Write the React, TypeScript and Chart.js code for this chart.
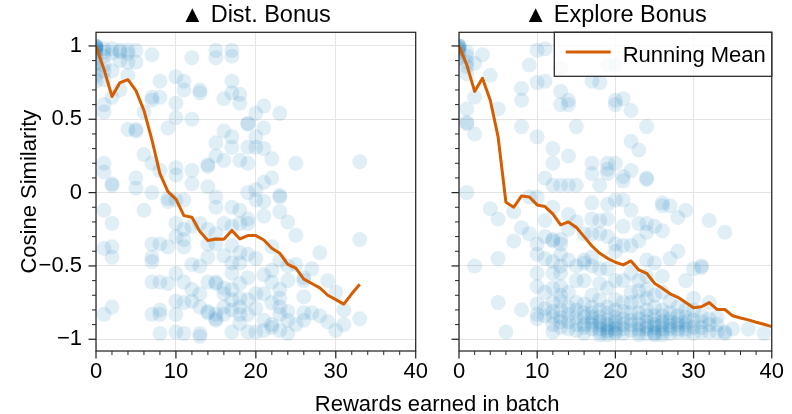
import React, { useEffect, useRef } from 'react';
import { Chart, registerables } from 'chart.js';

Chart.register(...registerables);

// ---- data -------------------------------------------------------------

const panelTitles = ['▲ Dist. Bonus', '▲ Explore Bonus'];
const xAxisLabel = 'Rewards earned in batch';
const yAxisLabel = 'Cosine Similarity';
const legendLabel = 'Running Mean';

const xTicks = [0, 10, 20, 30, 40];
const yTicks = [-1, -0.5, 0, 0.5, 1];
const yTickLabels = ['−1', '−0.5', '0', '0.5', '1'];

// cosine similarity of each batch, grouped by the number of rewards earned (index = rewards)
const distSims: number[][] = [
  [1, 1, 1, 0.99, 0.99, 0.98, 0.97, 0.95, 0.92, 0.88, 0.85, 0.8, 0.76],
  [0.98, 0.96, 0.93, 0.87, 0.83, 0.77, 0.6, 0.55, 0.2, 0.14, -0.12, -0.38, -0.83],
  [0.98, 0.95, 0.83, 0.65, 0.06, 0.05, -0.21, -0.37, -0.44, -0.78],
  [0.97, 0.96, 0.9, 0.7],
  [0.97, 0.95, 0.89, 0.8, 0.43],
  [0.97, 0.89, 0.43, 0.42, 0.1, 0.03],
  [0.55, 0.26, -0.12],
  [0.94, 0.65, 0.63, 0.2, 0.0, -0.35, -0.44, -0.47, -0.61, -0.83],
  [0.76, 0.65, 0.15, -0.35, -0.61, -0.8, -0.83, -0.96],
  [0.44, -0.04, -0.06, -0.37, -0.62],
  [0.79, 0.61, 0.51, 0.17, 0.12, -0.05, -0.21, -0.3, -0.55, -0.74, -0.83, -0.95],
  [0.76, 0.7, -0.05, -0.25, -0.32, -0.37, -0.61, -0.75, -0.96],
  [0.92, 0.5, 0.15, 0.06, -0.23, -0.49, -0.66, -0.74],
  [0.7, 0.68, -0.21, -0.5, -0.69, -0.78, -0.96, -0.98],
  [0.19, 0.18, 0.04, -0.25, -0.35, -0.44, -0.61, -0.81, -0.82],
  [0.97, 0.92, 0.34, 0.25, -0.03, -0.1, -0.28, -0.35, -0.61, -0.62, -0.83, -0.87, -0.86],
  [0.64, 0.42, 0.22, -0.21, -0.43, -0.65, -0.69, -0.78, -0.83],
  [0.97, 0.93, 0.76, 0.68, 0.38, 0.31, -0.1, -0.23, -0.36, -0.48, -0.55, -0.66, -0.73, -0.8, -0.95],
  [0.67, 0.61, 0.22, -0.12, -0.21, -0.41, -0.48, -0.62, -0.72, -0.78, -0.83, -0.89],
  [0.47, 0.47, 0.31, 0.2, 0.0, -0.18, -0.21, -0.42, -0.58, -0.73, -0.83, -0.95],
  [0.54, 0.38, 0.31, 0.02, -0.05, -0.45, -0.69, -0.79, -0.95],
  [0.59, 0.44, 0.3, 0.07, -0.06, -0.16, -0.56, -0.69, -0.87, -0.94],
  [0.23, 0.1, -0.37, -0.53, -0.61, -0.75, -0.9, -0.92],
  [0.54, -0.02, -0.03, -0.13, -0.46, -0.66, -0.72, -0.78, -0.83, -0.94],
  [-0.2, -0.5, -0.6, -0.81, -0.87, -0.96],
  [0.2, -0.29, -0.49, -0.9],
  [-0.58, -0.6, -0.71, -0.82, -0.87],
  [-0.52, -0.82],
  [-0.41, -0.84],
  [-0.6, -0.88],
  [-0.68, -0.94],
  [-0.8, -0.9],
  [],
  [0.21, -0.32, -0.86],
];

const exploreSims: number[][] = [
  [1, 1, 1, 0.99, 0.98, 0.97, 0.95, 0.92],
  [0.96, 0.93, 0.89, 0.86, 0.81, 0.57, 0.48, 0.47, 0.0],
  [0.88, 0.65, 0.4, -0.5],
  [0.94],
  [0.8, -0.11],
  [0.57, -0.18, -0.45, -0.75],
  [-0.95],
  [-0.13, -0.33],
  [0.71, 0.63, 0.45, -0.24, -0.8],
  [0.87, -0.03, -0.28],
  [0.97, 0.75, 0.38, -0.03, -0.35, -0.42, -0.55, -0.64, -0.76, -0.83, -0.86],
  [0.98, 0.76, 0.1, -0.19, -0.3, -0.45, -0.68, -0.79, -0.84],
  [0.3, 0.2, 0.05, -0.1, -0.32, -0.33, -0.47, -0.55, -0.65, -0.75, -0.81, -0.85, -0.9, -0.95],
  [0.85, 0.69, 0.6, 0.05, -0.32, -0.35, -0.42, -0.5, -0.55, -0.64, -0.7, -0.74, -0.8, -0.85, -0.88, -0.92],
  [0.63, 0.6, 0.25, 0.05, -0.15, -0.25, -0.46, -0.68, -0.78, -0.83, -0.88, -0.93],
  [0.45, 0.05, -0.2, -0.5, -0.6, -0.75, -0.8, -0.85, -0.9, -0.94],
  [-0.28, -0.46, -0.48, -0.6, -0.76, -0.82, -0.85, -0.9, -0.92, -0.96],
  [0.76, 0.2, 0.13, -0.07, -0.18, -0.28, -0.44, -0.5, -0.7, -0.78, -0.82, -0.85, -0.88, -0.9, -0.93],
  [0.75, 0.05, -0.19, -0.28, -0.52, -0.62, -0.73, -0.8, -0.85, -0.88, -0.9, -0.93, -0.95, -0.97],
  [0.87, 0.2, 0.16, 0.13, -0.08, -0.18, -0.3, -0.52, -0.65, -0.78, -0.82, -0.87, -0.9, -0.92, -0.94, -0.95, -0.97],
  [0.87, 0.63, 0.6, 0.2, -0.05, -0.35, -0.4, -0.6, -0.73, -0.8, -0.85, -0.88, -0.9, -0.93, -0.95, -0.96],
  [0.64, 0.11, 0.08, -0.05, -0.23, -0.36, -0.6, -0.75, -0.81, -0.86, -0.9, -0.93, -0.96],
  [0.56, 0.35, 0.15, -0.12, -0.36, -0.55, -0.68, -0.75, -0.82, -0.87, -0.9, -0.94],
  [0.29, -0.21, -0.33, -0.6, -0.67, -0.74, -0.82, -0.86, -0.9, -0.93, -0.95, -0.97],
  [0.45, 0.1, 0.09, -0.21, -0.27, -0.46, -0.57, -0.66, -0.72, -0.8, -0.84, -0.88, -0.91, -0.93, -0.96],
  [-0.23, -0.48, -0.7, -0.78, -0.84, -0.87, -0.9, -0.92, -0.95, -0.96, -0.97],
  [-0.07, -0.09, -0.26, -0.57, -0.68, -0.8, -0.84, -0.88, -0.9, -0.93, -0.95, -0.97],
  [-0.09, -0.45, -0.74, -0.82, -0.86, -0.88, -0.91, -0.93, -0.96],
  [-0.17, -0.4, -0.78, -0.84, -0.88, -0.9, -0.93, -0.95],
  [-0.12, -0.6, -0.8, -0.85, -0.88, -0.9, -0.93, -0.95],
  [-0.52, -0.72, -0.8, -0.87, -0.92, -0.96],
  [-0.5, -0.51, -0.84, -0.88, -0.92, -0.95],
  [-0.19, -0.75, -0.86, -0.9, -0.95],
  [-0.85, -0.9, -0.95],
  [-0.27, -0.95, -0.96],
  [-0.93],
  [],
  [-0.93],
  [],
  [-0.96],
  [],
];

// running mean per reward count (index = rewards)
const distMean = [
  1.0, 0.84, 0.655, 0.75, 0.77, 0.695, 0.56, 0.36, 0.13, 0.007, -0.045, -0.157, -0.168,
  -0.266, -0.327, -0.316, -0.318, -0.258, -0.316, -0.293, -0.293, -0.323, -0.38, -0.414,
  -0.49, -0.515, -0.59, -0.62, -0.65, -0.7, -0.73, -0.76, -0.69, -0.625,
];
const exploreMean = [
  1.0, 0.87, 0.69, 0.78, 0.63, 0.38, -0.066, -0.1, -0.023, -0.03, -0.084, -0.095, -0.145,
  -0.22, -0.2, -0.236, -0.3, -0.364, -0.414, -0.448, -0.475, -0.493, -0.466, -0.527, -0.55,
  -0.618, -0.652, -0.69, -0.714, -0.75, -0.785, -0.778, -0.75, -0.797, -0.797, -0.84,
  -0.855, -0.868, -0.884, -0.898, -0.914,
];

// ---- styling ----------------------------------------------------------

const FONT = '"Liberation Sans", Arial, Helvetica, sans-serif';
const POINT_FILL = 'rgba(1, 115, 178, 0.12)';
const LINE_COLOR = '#d55e00';
const INK = '#262626';
const GRID = '#e4e4e4';
const W = 792;
const H = 414;
const PLOT_TOP = 32.3;
const PLOT_BOTTOM = 351;
const X_AXIS_H = H - PLOT_BOTTOM;
const PANELS = [
  { left: 96, right: 415.7 },
  { left: 459, right: 778.3 },
];
const X_MINOR_STEP = 2;
const Y_MINOR_STEP = 0.1;

const toPoints = (cols: number[][]) => {
  const pts: { x: number; y: number }[] = [];
  cols.forEach((ys, x) => ys.forEach((y) => pts.push({ x, y })));
  return pts;
};
const toLine = (vals: number[]) => vals.map((y, x) => ({ x, y }));

// frame, outward major/minor ticks and panel title
const panelDecor = {
  id: 'panelDecor',
  afterDraw(chart: any, _args: any, opts: any) {
    const { ctx, chartArea: a } = chart;
    const xs = chart.scales.x;
    const ys = chart.scales.y;
    ctx.save();
    ctx.strokeStyle = INK;
    ctx.lineWidth = 1.25;
    ctx.strokeRect(a.left, a.top, a.right - a.left, a.bottom - a.top);

    const tick = (x0: number, y0: number, x1: number, y1: number, lw: number) => {
      ctx.lineWidth = lw;
      ctx.beginPath();
      ctx.moveTo(x0, y0);
      ctx.lineTo(x1, y1);
      ctx.stroke();
    };
    for (let v = xs.min; v <= xs.max + 1e-9; v += X_MINOR_STEP) {
      const px = xs.getPixelForValue(v);
      const major = xTicks.includes(Math.round(v));
      tick(px, a.bottom, px, a.bottom + (major ? 7.5 : 4), major ? 1.25 : 1);
    }
    for (let k = Math.ceil(ys.min / Y_MINOR_STEP); k * Y_MINOR_STEP <= ys.max; k++) {
      const v = k * Y_MINOR_STEP;
      const py = ys.getPixelForValue(v);
      const major = k % 5 === 0;
      tick(a.left, py, a.left - (major ? 7.5 : 4), py, major ? 1.25 : 1);
    }

    ctx.fillStyle = '#000';
    ctx.font = `23.5px ${FONT}`;
    ctx.textAlign = 'center';
    ctx.textBaseline = 'alphabetic';
    ctx.fillText(opts.title, (a.left + a.right) / 2, 21.5);
    ctx.restore();
  },
};

// shared axis labels, drawn once on the left chart
const axisLabels = {
  id: 'axisLabels',
  afterDraw(chart: any) {
    const { ctx } = chart;
    ctx.save();
    ctx.fillStyle = '#000';
    ctx.font = `22px ${FONT}`;
    ctx.textAlign = 'center';
    ctx.textBaseline = 'alphabetic';
    ctx.fillText(xAxisLabel, (PANELS[0].left + PANELS[1].right) / 2, 410.5);
    ctx.translate(35.5, (PLOT_TOP + PLOT_BOTTOM) / 2);
    ctx.rotate(-Math.PI / 2);
    ctx.fillText(yAxisLabel, 0, 0);
    ctx.restore();
  },
};

// framed legend in the upper right of the right panel
const frameLegend = {
  id: 'frameLegend',
  afterDraw(chart: any) {
    const { ctx, chartArea: a } = chart;
    const x0 = 554.3;
    const y0 = a.top;
    const x1 = a.right;
    const y1 = 76.3;
    ctx.save();
    ctx.fillStyle = 'rgba(255,255,255,0.8)';
    ctx.fillRect(x0, y0, x1 - x0, y1 - y0);
    ctx.strokeStyle = INK;
    ctx.lineWidth = 1.25;
    ctx.strokeRect(x0, y0, x1 - x0, y1 - y0);
    ctx.strokeStyle = LINE_COLOR;
    ctx.lineWidth = 3;
    ctx.beginPath();
    ctx.moveTo(565.7, 52);
    ctx.lineTo(610.7, 52);
    ctx.stroke();
    ctx.fillStyle = '#000';
    ctx.font = `22px ${FONT}`;
    ctx.textAlign = 'left';
    ctx.textBaseline = 'alphabetic';
    ctx.fillText(legendLabel, 622.7, 61.5);
    ctx.restore();
  },
};

function makeConfig(panel: number, sims: number[][], mean: number[]): any {
  const { left, right } = PANELS[panel];
  const showY = panel === 0;
  const yWidth = showY ? left : 10;
  return {
    type: 'scatter',
    data: {
      datasets: [
        {
          label: legendLabel,
          data: toLine(mean),
          showLine: true,
          borderColor: LINE_COLOR,
          backgroundColor: LINE_COLOR,
          borderWidth: 3,
          pointRadius: 0,
          pointHoverRadius: 0,
          tension: 0,
          borderJoinStyle: 'round',
          order: 0,
        },
        {
          label: 'batches',
          data: toPoints(sims),
          backgroundColor: POINT_FILL,
          borderWidth: 0,
          pointRadius: 7.5,
          pointHoverRadius: 7.5,
          clip: 0,
          order: 1,
        },
      ],
    },
    options: {
      responsive: false,
      animation: false,
      devicePixelRatio: 1,
      events: [],
      layout: {
        padding: { left: left - yWidth, right: W - right, top: PLOT_TOP, bottom: 0 },
      },
      plugins: {
        legend: { display: false },
        title: { display: false },
        tooltip: { enabled: false },
        panelDecor: { title: panelTitles[panel] },
      },
      scales: {
        x: {
          type: 'linear',
          min: 0,
          max: 40,
          afterBuildTicks: (s: any) => {
            s.ticks = xTicks.map((value) => ({ value }));
          },
          afterFit: (s: any) => {
            s.height = X_AXIS_H;
          },
          ticks: {
            color: '#000',
            font: { family: FONT, size: 22 },
            padding: 8,
            maxRotation: 0,
            autoSkip: false,
          },
          grid: { color: GRID, lineWidth: 1, drawTicks: false },
          border: { display: false },
        },
        y: {
          type: 'linear',
          min: -1.08,
          max: 1.093,
          afterBuildTicks: (s: any) => {
            s.ticks = yTicks.map((value) => ({ value }));
          },
          afterFit: (s: any) => {
            s.width = yWidth;
          },
          ticks: {
            display: showY,
            color: '#000',
            font: { family: FONT, size: 22 },
            padding: 14,
            callback: (v: number) => yTickLabels[yTicks.indexOf(v)] ?? '',
          },
          grid: { color: GRID, lineWidth: 1, drawTicks: false },
          border: { display: false },
        },
      },
    },
    plugins: panel === 0 ? [panelDecor, axisLabels] : [panelDecor, frameLegend],
  };
}

export default function App() {
  const leftRef = useRef<HTMLCanvasElement>(null);
  const rightRef = useRef<HTMLCanvasElement>(null);

  useEffect(() => {
    const a = new Chart(leftRef.current!, makeConfig(0, distSims, distMean));
    const b = new Chart(rightRef.current!, makeConfig(1, exploreSims, exploreMean));
    return () => {
      a.destroy();
      b.destroy();
    };
  }, []);

  const canvasStyle: React.CSSProperties = { position: 'absolute', left: 0, top: 0 };
  return (
    <div style={{ position: 'absolute', left: 0, top: 0, width: W, height: H, background: '#fff' }}>
      <canvas ref={leftRef} width={W} height={H} style={canvasStyle} />
      <canvas ref={rightRef} width={W} height={H} style={canvasStyle} />
    </div>
  );
}
